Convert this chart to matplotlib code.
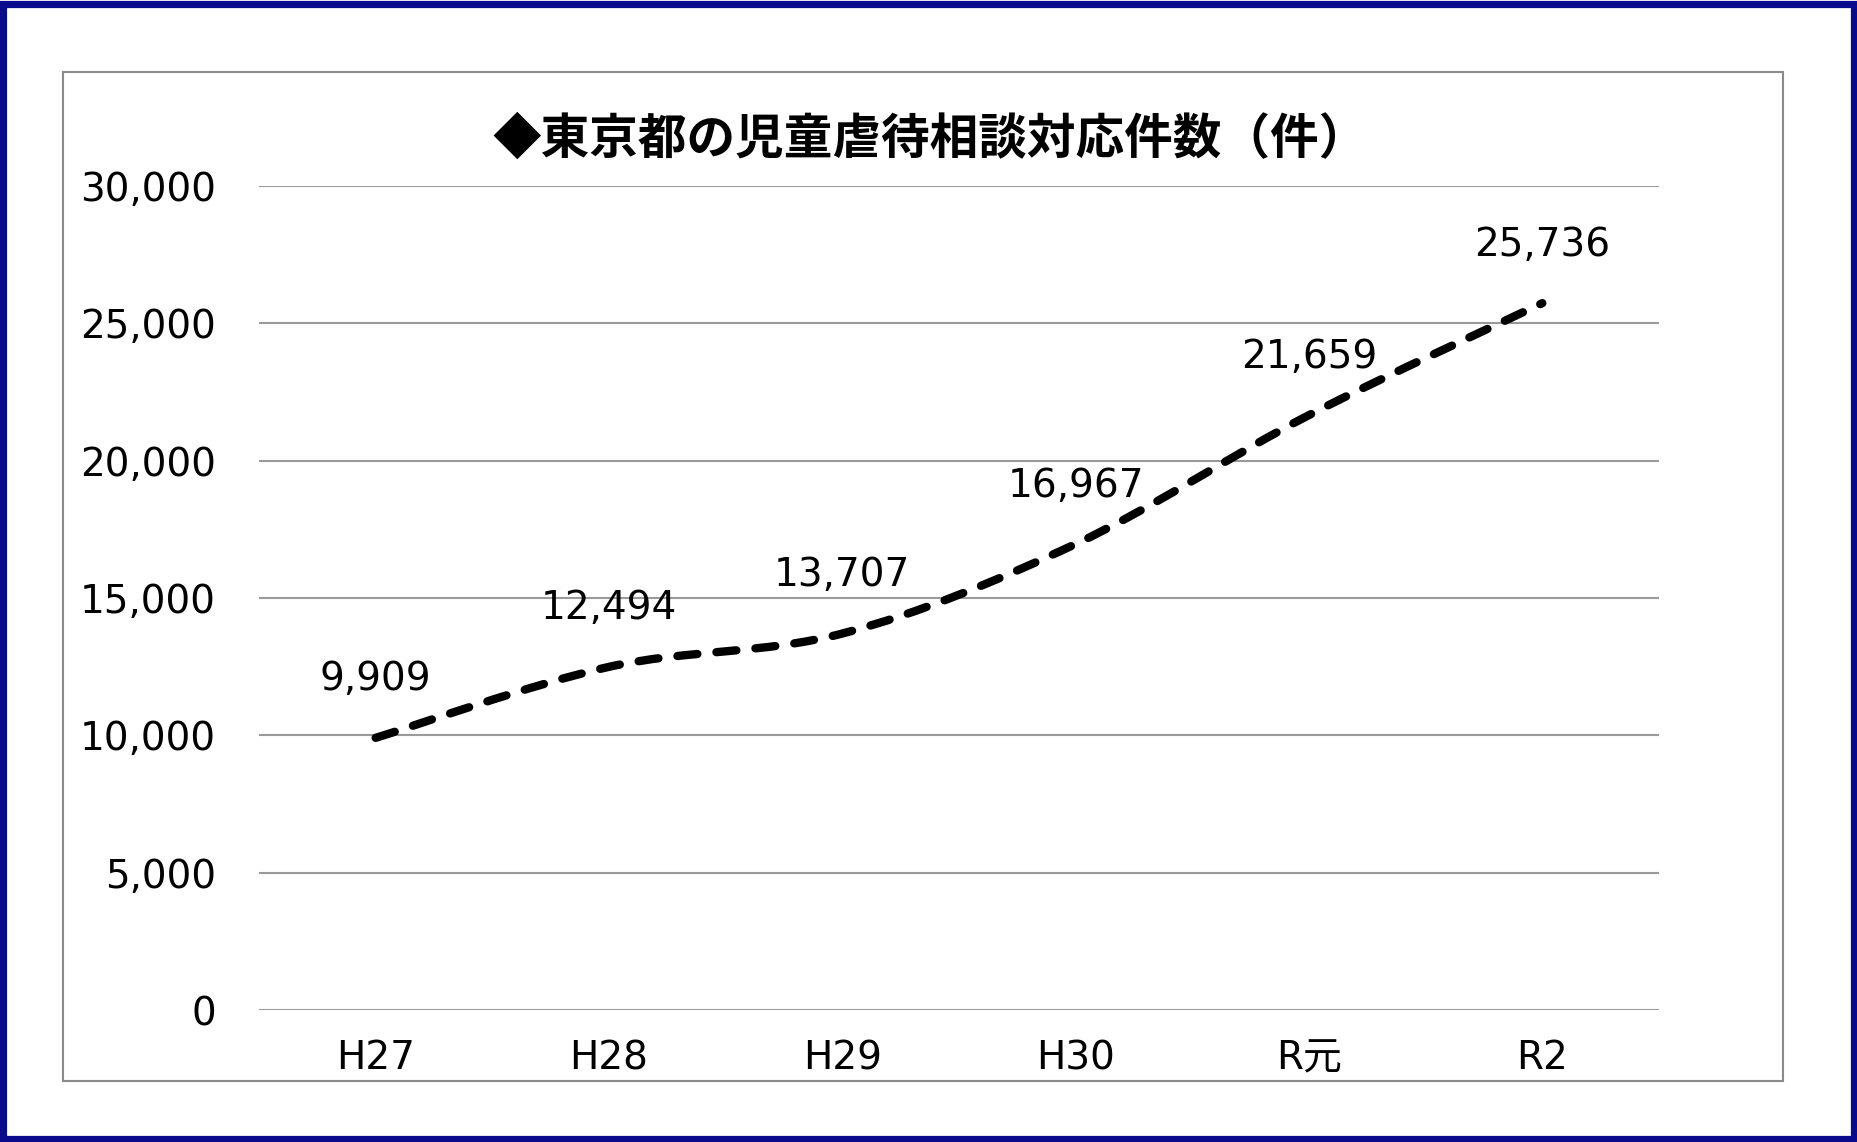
import matplotlib
matplotlib.use("Agg")
import matplotlib.pyplot as plt
from matplotlib.path import Path
from matplotlib.patches import PathPatch, Rectangle

plt.rcParams['font.family'] = ['Noto Sans CJK JP', 'DejaVu Sans']
num_font = ['DejaVu Sans', 'Noto Sans CJK JP']

# データ
years = ["H27", "H28", "H29", "H30", "R元", "R2"]
counts = [9909, 12494, 13707, 16967, 21659, 25736]
y_ticks = [0, 5000, 10000, 15000, 20000, 25000, 30000]
title = "◆東京都の児童虐待相談対応件数（件）"

W, H = 1858, 1142
fig = plt.figure(figsize=(W / 100, H / 100), dpi=100)

# 外枠（紺）と内枠（灰）
fig.patches.append(Rectangle((3.5 / W, 3.5 / H), 1 - 7 / W, 1 - 7 / H, transform=fig.transFigure,
                             fill=False, ec="#0a0a8c", lw=5.2))
fig.patches.append(Rectangle((63 / W, 1 - 1081 / H), (1783 - 63) / W, (1081 - 72) / H,
                             transform=fig.transFigure, fill=False, ec="#8a8a8a", lw=1.5))

ax = fig.add_axes([259 / W, 1 - 1010 / H, 1400 / W, 824 / H])
xs = list(range(len(years)))

# なめらかな折れ線（ベジェ曲線）
verts = [(xs[0], counts[0])]
codes = [Path.MOVETO]
n = len(xs)
for i in range(n - 1):
    x0, y0 = xs[max(i - 1, 0)], counts[max(i - 1, 0)]
    x1, y1 = xs[i], counts[i]
    x2, y2 = xs[i + 1], counts[i + 1]
    x3, y3 = xs[min(i + 2, n - 1)], counts[min(i + 2, n - 1)]
    c1 = (x1 + (x2 - x0) / 6, y1 + (y2 - y0) / 6)
    c2 = (x2 - (x3 - x1) / 6, y2 - (y3 - y1) / 6)
    verts += [c1, c2, (x2, y2)]
    codes += [Path.CURVE4] * 3
line = PathPatch(Path(verts, codes), fill=False, ec="black", lw=6,
                 ls=(0, (2.4, 2.3)), capstyle="round", zorder=3)
ax.add_patch(line)

for x, v in zip(xs, counts):
    ax.annotate(f"{v:,}", (x, v), xytext=(0, 42), textcoords="offset points",
                ha="center", va="center", fontsize=28, family=num_font)

ax.set_xlim(-0.5, len(years) - 0.5)
ax.set_ylim(0, 30000)
ax.set_yticks(y_ticks)
ax.set_yticklabels([f"{t:,}" for t in y_ticks], fontsize=28, family=num_font)
ax.set_xticks(xs)
ax.set_xticklabels(years, fontsize=28, family=num_font)
ax.tick_params(axis="y", length=0, pad=31)
ax.tick_params(axis="x", length=0, pad=21)
ax.grid(axis="y", color="#9a9a9a", lw=1.5)
ax.set_axisbelow(True)
for s in ax.spines.values():
    s.set_visible(False)

fig.text(930 / W, 1 - 139 / H, title, ha="center", va="center", fontsize=35,
         fontweight="bold")

fig.savefig("out.png", dpi=100)
